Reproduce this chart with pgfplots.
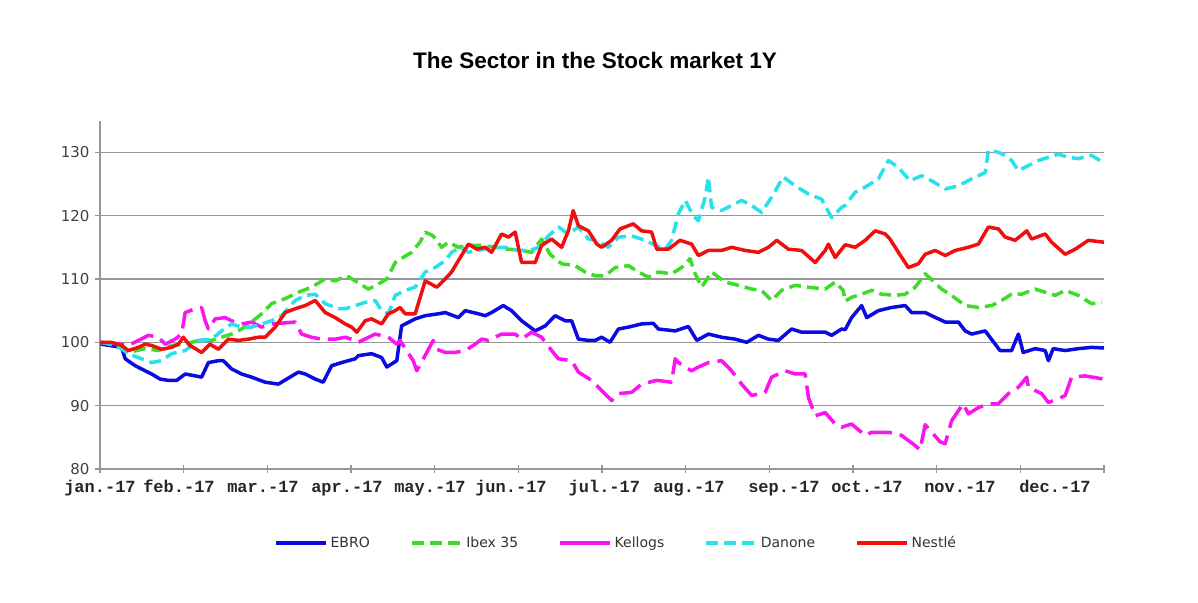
\documentclass[border=0pt]{standalone}
\usepackage{pgfplots}
\pgfplotsset{compat=1.18}
\usepackage{fontspec}
\setmainfont{DejaVu Sans}
\newfontfamily\titlefont{Liberation Sans}
\newfontfamily\labelfont{Liberation Mono}
\definecolor{cEbro}{RGB}{10,10,225}
\definecolor{cIbex}{RGB}{60,220,40}
\definecolor{cKell}{RGB}{250,20,240}
\definecolor{cDan}{RGB}{40,225,235}
\definecolor{cNes}{RGB}{240,15,15}
\definecolor{gridc}{RGB}{150,150,150}
\begin{document}
\begin{tikzpicture}[x=1pt,y=1pt]
\path[use as bounding box] (0,0) rectangle (1198,602);
\node[font=\titlefont\bfseries\fontsize{22.5}{26}\selectfont] at (595,542) {The Sector in the Stock market 1Y};
\begin{axis}[at={(100pt,133pt)}, anchor=south west, scale only axis,
  width=1004pt, height=348.4pt,
  xmin=0, xmax=251, ymin=80, ymax=135,
  axis lines*=left,
  axis line style={gridc, line width=1.2pt},
  ytick={80,90,...,130},
  ymajorgrids, grid style={gridc, line width=1.5pt},
  tick align=center, major tick length=10pt, minor tick length=8pt,
  tick style={gridc, line width=1.2pt},
  major x tick style={draw=none},
  minor xtick={0,20.92,41.83,62.75,83.67,104.58,125.5,146.42,167.33,188.25,209.17,230.08,251},
  yticklabel style={font=\fontsize{15}{18}\selectfont, text=black!75, /pgf/number format/assume math mode=true, xshift=-2pt},
  xtick={0,19.75,40.75,61.75,82.5,102.75,126.1,147.25,171,191.75,215,238.75},
  xticklabels={jan.-17,feb.-17,mar.-17,apr.-17,may.-17,jun.-17,jul.-17,aug.-17,sep.-17,oct.-17,nov.-17,dec.-17},
  xticklabel style={font=\labelfont\bfseries\fontsize{17}{19}\selectfont, text=black!85, yshift=-4pt, inner xsep=1pt, text height=11pt, text depth=3pt},
  legend columns=5,
  legend style={draw=none, fill=none, at={(0.514,-0.212)}, anchor=center,
    font=\fontsize{14}{16}\selectfont, text=black!80,
    /tikz/every even column/.append style={column sep=38pt},
    /tikz/every odd column/.append style={column sep=1pt}},
  legend image code/.code={\draw[#1, line width=3.5pt] (0pt,0pt) -- (50pt,0pt);},
  every axis plot/.append style={line width=3.5pt, line join=round},
]
\addplot[cEbro] coordinates {
(0,100)(0.4,99.7)(5.4,99.2)(6.3,97.4)(8.8,96.3)(11.3,95.5)(12.9,95.0)(15,94.2)(17,94.0)(19.2,94.0)(21.3,95.0)(23.8,94.7)(25.4,94.5)(27.1,96.8)(29.6,97.1)(30.8,97.1)(32.9,95.8)(35.4,95.0)(37.9,94.5)(41.3,93.7)(44.6,93.4)(46.7,94.2)(49.6,95.3)(51.3,95.0)(53.8,94.2)(55.8,93.7)(57.9,96.3)(60.4,96.8)(63.8,97.4)(64.6,97.9)(67.9,98.2)(70.4,97.6)(71.7,96.1)(74.2,97.1)(75.4,102.6)(78.8,103.7)(81.3,104.2)(84.6,104.5)(86.3,104.7)(89.6,103.9)(91.3,105.0)(94.6,104.5)(96.3,104.2)(97.9,104.7)(100.8,105.8)(102.9,105.0)(105.4,103.4)(108.8,101.8)(111.3,102.6)(113.8,104.2)(116.3,103.4)(117.9,103.4)(119.6,100.5)(122.1,100.3)(123.8,100.3)(125.4,100.8)(127.5,100.0)(129.6,102.1)(132.1,102.4)(135.4,102.9)(138.3,103.0)(139.6,102.1)(143.8,101.8)(147.1,102.5)(149.2,100.3)(152.1,101.3)(155.4,100.8)(158.8,100.5)(161.7,100.0)(164.6,101.1)(167.1,100.5)(169.6,100.3)(172.9,102.1)(175.4,101.6)(181.3,101.6)(182.9,101.1)(185.4,102.1)(186.3,102.0)(187.9,103.9)(190.4,105.8)(191.7,103.9)(194.6,105.0)(197.9,105.5)(201.3,105.8)(202.9,104.7)(206.3,104.7)(207.9,104.2)(211.3,103.2)(214.6,103.2)(216.3,101.8)(217.9,101.3)(221.3,101.8)(225,98.7)(227.9,98.7)(229.6,101.3)(230.8,98.4)(233.8,99.0)(236.3,98.7)(237.1,97.1)(238.3,99.0)(241.3,98.7)(244.6,99.0)(247.9,99.2)(251,99.1)
};
\addlegendentry{EBRO}
\addplot[cIbex, dash pattern=on 12pt off 6pt] coordinates {
(0,100)(3.8,99.5)(7.1,98.4)(11.3,99.0)(14.6,98.7)(17.9,99.5)(21.3,99.7)(24.6,100.3)(27.9,100.3)(30.4,100.8)(32.9,101.3)(35.4,102.1)(37.9,103.2)(40.4,104.5)(42.9,106.1)(46.3,106.9)(49.6,107.9)(52.9,108.7)(56.3,110.0)(58.8,109.7)(61.7,110.5)(63.8,109.7)(67.1,108.4)(69.6,109.2)(71.7,110.0)(73.8,112.6)(75.8,113.4)(77.9,114.2)(80,115.8)(81.3,117.4)(83.3,116.8)(85.4,115.0)(87.1,115.8)(89.6,115.0)(92.1,115.3)(95.4,115.3)(98.8,115.0)(102.1,114.7)(105.4,114.5)(107.9,114.2)(110.4,116.3)(112.5,113.9)(115.4,112.4)(118.8,112.1)(121.3,111.1)(123.8,110.5)(126.3,110.5)(128.8,111.8)(132.1,112.1)(134.6,111.1)(137.1,110.3)(139.6,111.1)(142.9,110.8)(145.4,111.8)(147.5,113.2)(148.8,110.8)(150.4,108.7)(152.9,111.1)(156.3,109.5)(159.6,109.0)(162.9,108.4)(165.4,108.2)(167.9,106.6)(170.4,108.2)(173.8,109.0)(177.1,108.7)(181.3,108.4)(183.8,109.5)(185.8,108.2)(186.3,106.5)(187.9,107.1)(190.4,107.6)(192.9,108.2)(195.4,107.6)(198.8,107.4)(201.3,107.6)(203.8,108.7)(206.3,110.8)(208.3,109.7)(210.4,108.4)(212.9,107.4)(216.3,105.8)(219.6,105.5)(222.9,105.8)(225.4,106.6)(227.9,107.6)(230.4,107.6)(233.8,108.4)(236.3,107.9)(238.8,107.4)(241.3,108.2)(244.6,107.4)(247.9,106.1)(250.4,106.3)
};
\addlegendentry{Ibex 35}
\addplot[cKell, dash pattern=on 24pt off 8pt, legend image post style={solid}] coordinates {
(0,100)(3.8,99.8)(7.1,99.5)(9.6,100.3)(12.1,101.1)(14.6,100.8)(16.3,99.7)(18.8,100.5)(20.4,101.3)(21.3,104.7)(23.8,105.3)(25.4,105.5)(26.3,103.4)(27.1,102.1)(28.8,103.7)(31.3,103.9)(32.9,103.4)(35.4,102.9)(37.9,103.2)(40.4,102.4)(42.9,102.9)(48.8,103.2)(50.4,101.3)(52.9,100.8)(55.4,100.5)(58.8,100.5)(61.3,100.8)(63.8,100.3)(64.6,100.0)(68.8,101.3)(72.1,100.8)(74.2,99.7)(75,100.3)(78.3,97.1)(79.2,95.5)(81.7,98.4)(83.3,100.3)(83.8,99.0)(86.3,98.4)(88.8,98.4)(91.3,98.7)(93.8,99.7)(95.4,100.5)(97.1,100.3)(100.4,101.3)(103.8,101.3)(105.4,100.5)(107.9,101.6)(110.4,100.8)(112.9,98.7)(114.6,97.4)(117.9,97.1)(119.6,95.3)(122.9,94.0)(125.4,92.4)(127.9,90.8)(129.6,91.9)(132.9,92.1)(135.4,93.4)(139.2,94.0)(142.9,93.7)(143.8,97.4)(144.6,96.8)(147.9,95.5)(149.6,96.1)(152.1,96.8)(155.4,97.1)(157.9,95.5)(160.4,93.4)(162.9,91.6)(166.3,92.1)(167.9,94.5)(171.3,95.5)(173.8,95.0)(176.3,95.0)(177.1,91.3)(178.8,88.4)(181.3,88.9)(183.8,87.1)(185.4,86.6)(187.9,87.1)(191.3,85.3)(192.9,85.8)(197.1,85.8)(200.4,85.3)(203.8,83.7)(205,83.0)(206.3,87.0)(210,84.3)(211.3,84.0)(212.9,87.6)(214.6,89.2)(215.8,90.3)(217.1,88.7)(219.6,89.7)(222.1,90.3)(224.6,90.3)(227.1,91.9)(229.6,92.9)(231.7,94.5)(232.1,92.9)(235.4,91.9)(237.1,90.5)(239.6,91.1)(241.3,91.6)(242.9,94.5)(246.3,94.7)(250.8,94.2)
};
\addlegendentry{Kellogs}
\addplot[cDan, dash pattern=on 12pt off 6pt] coordinates {
(0,100)(3.8,99.7)(7.1,98.2)(10.4,97.4)(12.9,96.8)(15.4,97.1)(17.9,98.2)(21.3,98.7)(24.6,100.3)(27.9,100.5)(30.4,101.8)(32.9,102.9)(35.4,102.4)(37.9,102.4)(40.4,102.9)(42.9,103.4)(45.4,104.2)(48.8,106.6)(51.3,107.4)(53.8,107.6)(56.3,106.1)(59.6,105.3)(61.3,105.3)(63.8,105.8)(66.3,106.3)(68.8,106.6)(70.4,105.0)(72.1,104.5)(73.8,107.4)(76.3,108.2)(78.8,108.7)(81.3,111.1)(83.8,111.8)(86.3,112.9)(87.9,114.2)(90,115.0)(92.1,114.2)(94.6,114.5)(97.9,115.0)(101.3,115.0)(104.6,114.5)(107.5,114.5)(109.6,115.0)(112.1,116.8)(114.6,118.2)(117.1,117.1)(119.6,118.2)(122.1,116.3)(123.8,116.1)(127.1,115.0)(129.6,116.6)(132.9,116.8)(136.3,116.1)(138.8,115.3)(141.3,114.7)(142.9,116.1)(144.6,120.3)(146.3,122.4)(148.3,120.0)(149.6,119.2)(151.3,122.9)(152.1,126.1)(152.9,121.3)(155.4,120.8)(157.9,121.6)(160.4,122.4)(162.9,121.6)(165.4,120.5)(167.9,122.9)(170.8,126.1)(173.8,124.7)(177.1,123.4)(180.4,122.6)(182.9,119.7)(185.4,121.3)(186.3,121.6)(188.8,123.7)(191.3,124.5)(194.6,125.8)(197.1,128.7)(199.6,127.6)(202.5,125.5)(205.4,126.3)(207.9,125.5)(211.3,124.2)(214.6,124.7)(217.9,125.8)(221.3,126.8)(222.1,130.3)(224.6,130.0)(226.3,129.5)(227.9,128.7)(229.6,127.1)(232.1,127.9)(234.6,128.7)(237.1,129.2)(239.6,129.7)(242.1,129.2)(244.6,129.0)(247.9,129.5)(250.8,128.4)
};
\addlegendentry{Danone}
\addplot[cNes] coordinates {
(0,100)(2.9,100)(5.4,99.5)(7.1,98.7)(9.6,99.2)(11.3,99.7)(12.9,99.5)(15.4,98.9)(17.9,99.2)(19.6,99.7)(20.8,100.8)(22.5,99.5)(25.4,98.4)(27.5,99.7)(29.6,98.9)(32.1,100.5)(34.6,100.3)(37.1,100.5)(39.6,100.8)(41.3,100.8)(43.8,102.4)(46.3,104.7)(48.8,105.3)(51.3,105.8)(53.8,106.6)(56.3,104.7)(58.8,103.9)(61.3,102.9)(62.9,102.4)(64.2,101.6)(66.3,103.4)(67.9,103.7)(70.4,102.9)(72.1,104.5)(73.8,105.0)(75,105.5)(76.3,104.5)(78.8,104.5)(81.3,109.7)(84.2,108.7)(86.3,110.0)(87.9,111.1)(89.6,112.9)(92.1,115.5)(94.2,114.7)(96.3,115.0)(97.9,114.2)(100.4,117.1)(102.1,116.6)(103.8,117.4)(105.4,112.6)(108.8,112.6)(110.4,115.3)(112.9,116.3)(115.4,115.0)(117.1,117.6)(118.3,120.8)(119.6,118.4)(122.1,117.6)(124.2,115.5)(125.4,115.0)(127.9,116.1)(130,117.9)(132.1,118.4)(133.3,118.7)(135.4,117.6)(137.9,117.4)(139.2,114.7)(142.1,114.7)(145,116.1)(147.9,115.5)(149.6,113.7)(152.1,114.5)(155.4,114.5)(157.9,115.0)(161.3,114.5)(164.6,114.2)(167.1,115.0)(169.2,116.1)(172.1,114.7)(175.4,114.5)(178.8,112.6)(181.3,114.5)(182.1,115.5)(183.8,113.4)(186.3,115.4)(188.8,115.0)(191.3,116.1)(193.8,117.6)(196.3,117.1)(197.5,116.3)(199.6,114.2)(202.1,111.8)(204.6,112.4)(206.3,113.9)(208.8,114.5)(211.3,113.7)(213.8,114.5)(217.1,115.0)(219.6,115.5)(222.1,118.2)(224.6,117.9)(226.3,116.6)(228.8,116.1)(231.7,117.6)(232.9,116.3)(236.3,117.1)(237.9,115.8)(241.3,113.9)(243.8,114.7)(247.1,116.1)(251,115.8)
};
\addlegendentry{Nestlé}
\end{axis}
\end{tikzpicture}
\end{document}
